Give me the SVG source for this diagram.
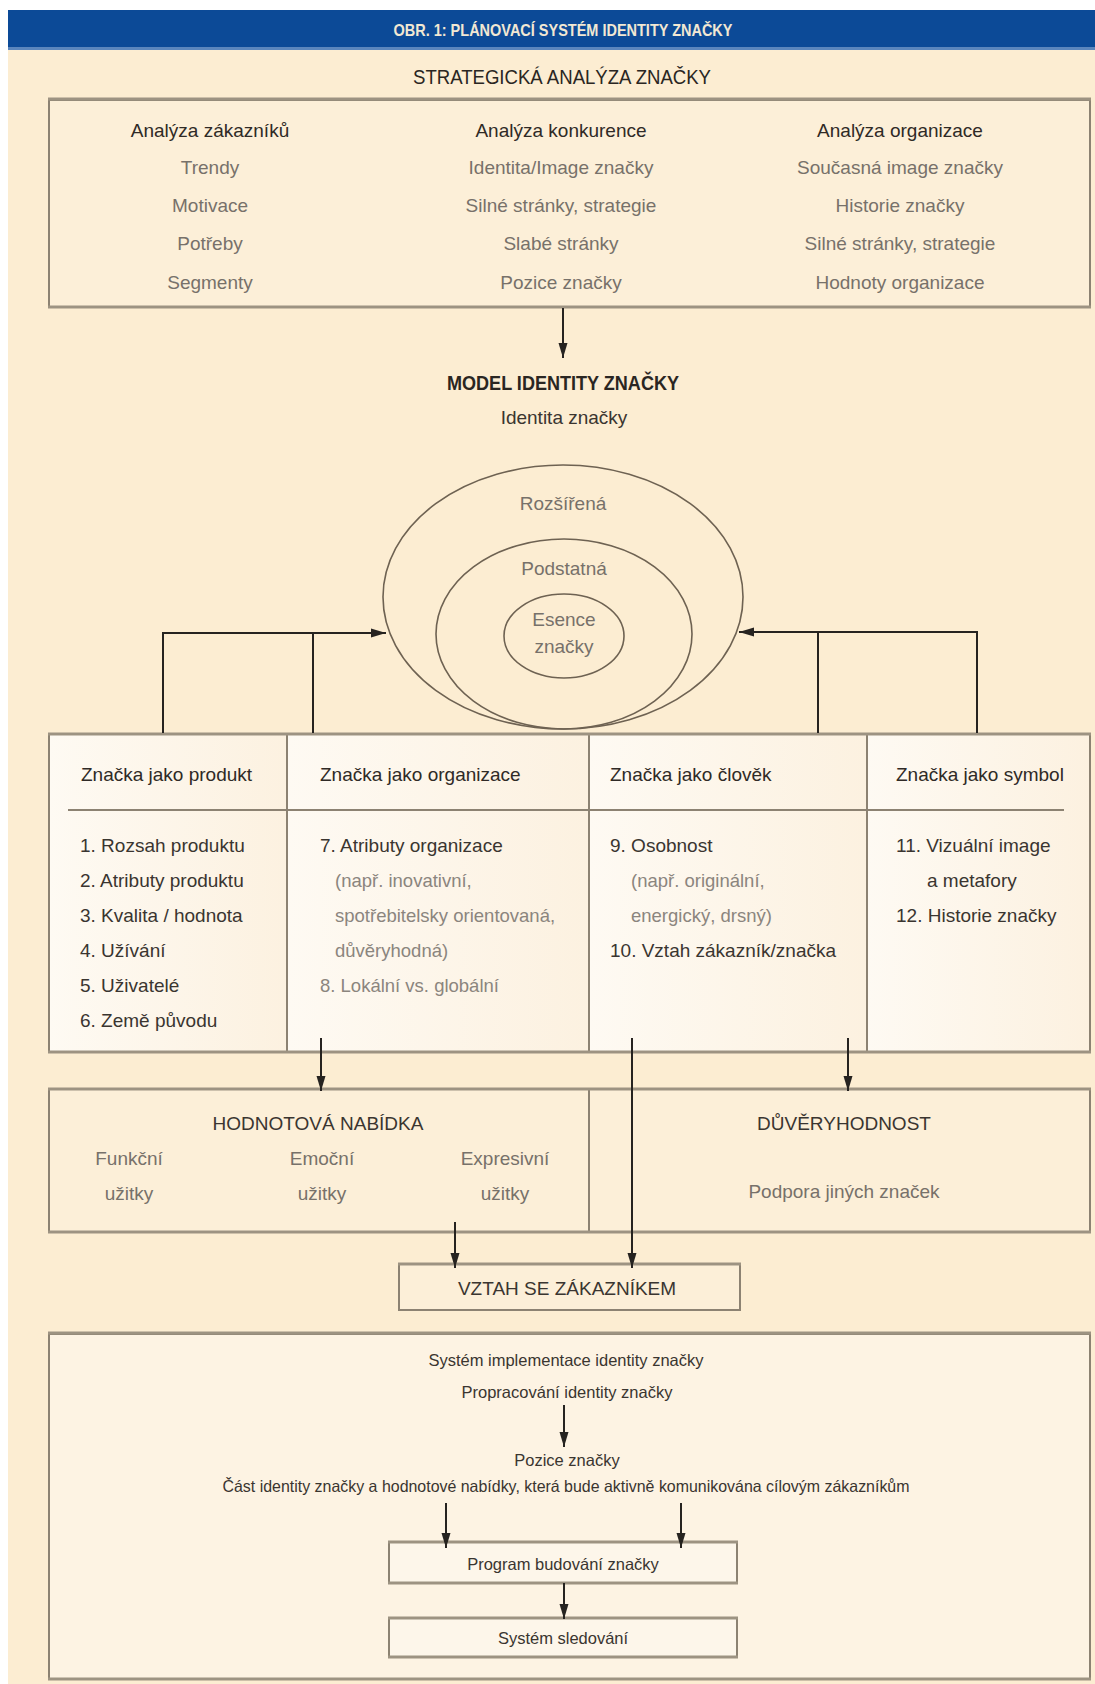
<svg xmlns="http://www.w3.org/2000/svg" width="1095" height="1684" viewBox="0 0 1095 1684">
<defs>
<style>
text{font-family:"Liberation Sans",Arial,sans-serif;}
.t19{font-size:19px;fill:#3a3530;}
.g19{font-size:19px;fill:#77716a;}
.h19{font-size:19px;fill:#2f2a26;}
.s18{font-size:18.5px;fill:#8b857e;}
.b16{font-size:16.5px;fill:#3a3530;}
.c{text-anchor:middle;}
.box{stroke:#8c8272;stroke-width:2;}
.edge{stroke:#9d9382;stroke-width:3;}
.conn{stroke:#262320;stroke-width:2;fill:none;}
</style>
<marker id="ah" markerUnits="userSpaceOnUse" markerWidth="16" markerHeight="10" refX="15" refY="5" orient="auto">
<path d="M0,0.5 L15,5 L0,9.5 z" fill="#262320"/>
</marker>
<linearGradient id="lg" x1="0" y1="0" x2="1" y2="0">
<stop offset="0" stop-color="#fefaf3"/>
<stop offset="1" stop-color="#fcf1e0"/>
</linearGradient>
</defs>

<rect x="0" y="0" width="1095" height="1684" fill="#ffffff"/>
<rect x="8" y="50" width="1087" height="1634" fill="#fcedd2"/>

<g id="title">
<rect x="8" y="10" width="1087" height="40" fill="#0c4a97"/>
<rect x="8" y="47" width="1087" height="3" fill="#5b86bd"/>
<text x="563" y="36" class="c" font-size="16.5" font-weight="bold" fill="#f2e8d3" textLength="339" lengthAdjust="spacingAndGlyphs">OBR. 1: PLÁNOVACÍ SYSTÉM IDENTITY ZNAČKY</text>
</g>

<g id="strategic-label">
<text x="562" y="84" class="c" font-size="19.5" fill="#2a2622" textLength="298" lengthAdjust="spacingAndGlyphs">STRATEGICKÁ ANALÝZA ZNAČKY</text>
</g>

<g id="strategic-analysis">
<rect x="49" y="100" width="1041" height="207" fill="#fcefd8" class="box"/>
<line x1="48" y1="99" x2="1091" y2="99" class="edge"/>
<line x1="48" y1="307" x2="1091" y2="307" class="edge"/>
<text x="210" y="137" class="h19 c">Analýza zákazníků</text>
<text x="210" y="174" class="g19 c">Trendy</text>
<text x="210" y="212" class="g19 c">Motivace</text>
<text x="210" y="250" class="g19 c">Potřeby</text>
<text x="210" y="289" class="g19 c">Segmenty</text>
<text x="561" y="137" class="h19 c">Analýza konkurence</text>
<text x="561" y="174" class="g19 c">Identita/Image značky</text>
<text x="561" y="212" class="g19 c">Silné stránky, strategie</text>
<text x="561" y="250" class="g19 c">Slabé stránky</text>
<text x="561" y="289" class="g19 c">Pozice značky</text>
<text x="900" y="137" class="h19 c">Analýza organizace</text>
<text x="900" y="174" class="g19 c">Současná image značky</text>
<text x="900" y="212" class="g19 c">Historie značky</text>
<text x="900" y="250" class="g19 c">Silné stránky, strategie</text>
<text x="900" y="289" class="g19 c">Hodnoty organizace</text>
</g>

<g id="identity-model">
<text x="563" y="390" class="c" font-size="20" font-weight="bold" fill="#2a2622" textLength="232" lengthAdjust="spacingAndGlyphs">MODEL IDENTITY ZNAČKY</text>
<text x="564" y="424" class="t19 c">Identita značky</text>
<ellipse cx="563" cy="597" rx="180" ry="132" fill="none" stroke="#6e6252" stroke-width="1.6"/>
<ellipse cx="564" cy="634" rx="128" ry="95" fill="none" stroke="#6e6252" stroke-width="1.6"/>
<ellipse cx="564" cy="636" rx="60" ry="42" fill="none" stroke="#6e6252" stroke-width="1.6"/>
<text x="563" y="510" class="g19 c">Rozšířená</text>
<text x="564" y="575" class="g19 c">Podstatná</text>
<text x="564" y="626" class="g19 c">Esence</text>
<text x="564" y="653" class="g19 c">značky</text>
</g>

<g id="brand-as-product">
<rect x="49" y="734" width="238" height="318" fill="url(#lg)" class="box"/>
<text x="81" y="781" class="h19">Značka jako produkt</text>
<text x="80" y="852" class="t19">1. Rozsah produktu</text>
<text x="80" y="887" class="t19">2. Atributy produktu</text>
<text x="80" y="922" class="t19">3. Kvalita / hodnota</text>
<text x="80" y="957" class="t19">4. Užívání</text>
<text x="80" y="992" class="t19">5. Uživatelé</text>
<text x="80" y="1027" class="t19">6. Země původu</text>
</g>

<g id="brand-as-organization">
<rect x="287" y="734" width="302" height="318" fill="url(#lg)" class="box"/>
<text x="320" y="781" class="h19">Značka jako organizace</text>
<text x="320" y="852" class="t19">7. Atributy organizace</text>
<text x="335" y="887" class="s18">(např. inovativní,</text>
<text x="335" y="922" class="s18">spotřebitelsky orientovaná,</text>
<text x="335" y="957" class="s18">důvěryhodná)</text>
<text x="320" y="992" class="s18">8. Lokální vs. globální</text>
</g>

<g id="brand-as-person">
<rect x="589" y="734" width="278" height="318" fill="url(#lg)" class="box"/>
<text x="610" y="781" class="h19">Značka jako člověk</text>
<text x="610" y="852" class="t19">9. Osobnost</text>
<text x="631" y="887" class="s18">(např. originální,</text>
<text x="631" y="922" class="s18">energický, drsný)</text>
<text x="610" y="957" class="t19">10. Vztah zákazník/značka</text>
</g>

<g id="brand-as-symbol">
<rect x="867" y="734" width="223" height="318" fill="url(#lg)" class="box"/>
<text x="896" y="781" class="h19">Značka jako symbol</text>
<text x="896" y="852" class="t19">11. Vizuální image</text>
<text x="927" y="887" class="t19">a metafory</text>
<text x="896" y="922" class="t19">12. Historie značky</text>
</g>

<g id="row-frame">
<line x1="48" y1="734" x2="1091" y2="734" class="edge"/>
<line x1="48" y1="1052" x2="1091" y2="1052" class="edge"/>
<line x1="68" y1="810" x2="1064" y2="810" stroke="#8c8272" stroke-width="2"/>
</g>

<g id="value-proposition">
<rect x="49" y="1089" width="540" height="143" fill="#fcefd8" class="box"/>
<text x="318" y="1130" class="t19 c">HODNOTOVÁ NABÍDKA</text>
<text x="129" y="1165" class="g19 c">Funkční</text>
<text x="129" y="1200" class="g19 c">užitky</text>
<text x="322" y="1165" class="g19 c">Emoční</text>
<text x="322" y="1200" class="g19 c">užitky</text>
<text x="505" y="1165" class="g19 c">Expresivní</text>
<text x="505" y="1200" class="g19 c">užitky</text>
</g>

<g id="credibility">
<rect x="589" y="1089" width="501" height="143" fill="#fcefd8" class="box"/>
<text x="844" y="1130" class="t19 c">DŮVĚRYHODNOST</text>
<text x="844" y="1198" class="g19 c">Podpora jiných značek</text>
</g>

<g id="row2-frame">
<line x1="48" y1="1089" x2="1091" y2="1089" class="edge"/>
<line x1="48" y1="1232" x2="1091" y2="1232" class="edge"/>
</g>

<g id="customer-relationship">
<rect x="399" y="1264" width="341" height="46" fill="#fcefd8" class="box"/>
<line x1="398" y1="1264" x2="741" y2="1264" class="edge"/>
<text x="567" y="1295" class="t19 c">VZTAH SE ZÁKAZNÍKEM</text>
</g>

<g id="implementation">
<rect x="49" y="1334" width="1041" height="345" fill="#fdf3e3" class="box"/>
<line x1="48" y1="1333" x2="1091" y2="1333" class="edge"/>
<line x1="48" y1="1679" x2="1091" y2="1679" class="edge"/>
<text x="566" y="1366" class="b16 c">Systém implementace identity značky</text>
<text x="567" y="1398" class="b16 c">Propracování identity značky</text>
<text x="567" y="1466" class="b16 c">Pozice značky</text>
<text x="566" y="1492" class="b16 c" textLength="687" lengthAdjust="spacingAndGlyphs">Část identity značky a hodnotové nabídky, která bude aktivně komunikována cílovým zákazníkům</text>
</g>

<g id="brand-building-program">
<rect x="389" y="1542" width="348" height="41" fill="#fdf6ea" class="box"/>
<line x1="388" y1="1542" x2="738" y2="1542" class="edge"/>
<line x1="388" y1="1583" x2="738" y2="1583" class="edge"/>
<text x="563" y="1570" class="b16 c">Program budování značky</text>
</g>

<g id="tracking-system">
<rect x="389" y="1618" width="348" height="39" fill="#fdf6ea" class="box"/>
<line x1="388" y1="1618" x2="738" y2="1618" class="edge"/>
<line x1="388" y1="1657" x2="738" y2="1657" class="edge"/>
<text x="563" y="1644" class="b16 c">Systém sledování</text>
</g>

<g id="connectors">
<line x1="563" y1="308" x2="563" y2="358" class="conn" marker-end="url(#ah)"/>
<polyline points="163,733 163,633 386,633" class="conn" marker-end="url(#ah)"/>
<line x1="313" y1="733" x2="313" y2="633" class="conn"/>
<polyline points="977,733 977,632 739,632" class="conn" marker-end="url(#ah)"/>
<line x1="818" y1="733" x2="818" y2="632" class="conn"/>
<line x1="321" y1="1038" x2="321" y2="1091" class="conn" marker-end="url(#ah)"/>
<line x1="632" y1="1038" x2="632" y2="1268" class="conn" marker-end="url(#ah)"/>
<line x1="848" y1="1038" x2="848" y2="1091" class="conn" marker-end="url(#ah)"/>
<line x1="455" y1="1222" x2="455" y2="1268" class="conn" marker-end="url(#ah)"/>
<line x1="564" y1="1405" x2="564" y2="1447" class="conn" marker-end="url(#ah)"/>
<line x1="446" y1="1503" x2="446" y2="1548" class="conn" marker-end="url(#ah)"/>
<line x1="681" y1="1503" x2="681" y2="1548" class="conn" marker-end="url(#ah)"/>
<line x1="564" y1="1583" x2="564" y2="1619" class="conn" marker-end="url(#ah)"/>
</g>
</svg>
